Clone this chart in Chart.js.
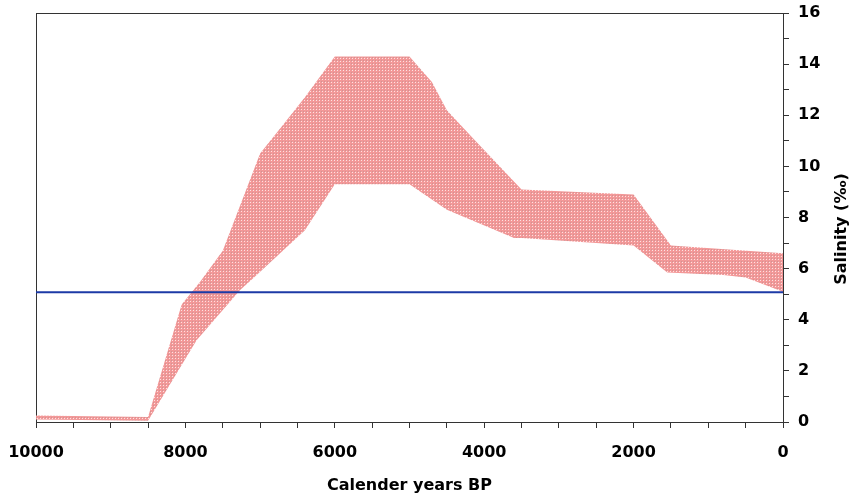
<!DOCTYPE html>
<html>
<head>
<meta charset="utf-8">
<script src="https://cdn.jsdelivr.net/npm/chart.js@4/dist/chart.umd.min.js"></script>
<style>
  html, body { margin: 0; padding: 0; background: #fff; }
  #wrap { width: 853px; height: 499px; }
</style>
</head>
<body>
<div id="wrap"><canvas id="salinity" width="853" height="499"></canvas></div>
<script>
// Salinity band (years BP, per mille)
const upperYears = [10000, 8500, 8050, 7800, 7500, 7000, 6700, 6400, 6000, 5000, 4700, 4500, 4150, 3500, 2000, 1500, 0];
const upperSal   = [0.25, 0.2, 4.6, 5.5, 6.7, 10.5, 11.6, 12.7, 14.3, 14.3, 13.3, 12.2, 11.1, 9.1, 8.9, 6.9, 6.6];
const lowerYears = [10000, 8500, 7850, 7270, 7100, 6400, 6000, 5000, 4500, 3600, 3500, 2000, 1550, 800, 500, 0];
const lowerSal   = [0.1, 0.05, 3.2, 5.15, 5.6, 7.5, 9.3, 9.3, 8.3, 7.2, 7.2, 6.9, 5.85, 5.75, 5.65, 5.1];
const refYears = [10000, 0];
const refSal   = [5.08, 5.08];

const xMajor = 2000;
const yMajor = 2;

const toPoints = (xs, ys) => xs.map((x, i) => ({ x: x, y: ys[i] }));

// dotted pink fill like the original stipple
function stipple(){
  const c = document.createElement('canvas');
  c.width = 3; c.height = 3;
  const g = c.getContext('2d');
  g.fillStyle = '#f39898';
  g.fillRect(0, 0, 3, 3);
  g.fillStyle = '#fde2e2';
  g.fillRect(1, 1, 1, 1);
  g.fillStyle = '#cf9494';
  g.fillRect(0, 0, 1, 1);
  return g.createPattern(c, 'repeat');
}

const font = { family: 'DejaVu Sans, sans-serif', size: 16, weight: 'bold' };
const dashBorder = { display: true, color: '#333', width: 1, dash: [1, 1] };

// rotated right-hand title, reads bottom to top
const yTitle = {
  id: 'yTitle',
  afterDraw(chart){
    const ctx = chart.ctx;
    ctx.save();
    ctx.translate(842, 229);
    ctx.rotate(-Math.PI / 2);
    ctx.font = 'bold 16px DejaVu Sans, sans-serif';
    ctx.fillStyle = '#000';
    ctx.textAlign = 'center';
    ctx.textBaseline = 'middle';
    ctx.fillText('Salinity (‰)', 0, 0);
    ctx.restore();
  }
};

// keep the plot box where the original has it
function noPad(s){
  s.paddingLeft = 0; s.paddingRight = 0;
  s.paddingTop = 0; s.paddingBottom = 0;
}

const ctx = document.getElementById('salinity').getContext('2d');
const chart = new Chart(ctx, {
  type: 'line',
  data: {
    datasets: [
      {
        label: 'limit',
        data: toPoints(refYears, refSal),
        borderColor: '#1c3aa6',
        borderWidth: 2,
        pointRadius: 0,
        fill: false
      },
      {
        label: 'upper',
        data: toPoints(upperYears, upperSal),
        borderWidth: 0,
        borderColor: 'rgba(0,0,0,0)',
        pointRadius: 0,
        backgroundColor: stipple(),
        fill: '+1'
      },
      {
        label: 'lower',
        data: toPoints(lowerYears, lowerSal),
        borderWidth: 0,
        borderColor: 'rgba(0,0,0,0)',
        pointRadius: 0,
        fill: false
      }
    ]
  },
  options: {
    responsive: false,
    animation: false,
    layout: { padding: { left: 36, top: 13, right: 0, bottom: 4 } },
    plugins: { legend: { display: false }, tooltip: { enabled: false } },
    scales: {
      x: {
        type: 'linear',
        position: 'bottom',
        reverse: true,
        min: 0, max: 10000,
        border: dashBorder,
        grid: { drawOnChartArea: false, tickLength: 6, color: '#333' },
        ticks: {
          stepSize: 500, autoSkip: false, maxRotation: 0, padding: 15,
          color: '#000', font: font,
          callback: v => (v % xMajor === 0 ? String(v) : '')
        },
        title: { display: true, text: 'Calender years BP', color: '#000', font: font, padding: { top: 0, bottom: 0 } },
        afterFit: s => { s.height = 499 - 422 - 4; noPad(s); }
      },
      x2: {
        type: 'linear',
        position: 'top',
        min: 0, max: 10000,
        border: dashBorder,
        grid: { display: false },
        ticks: { display: false },
        afterFit: s => { s.height = 0; noPad(s); }
      },
      y: {
        type: 'linear',
        position: 'right',
        min: 0, max: 16,
        border: dashBorder,
        grid: { drawOnChartArea: false, tickLength: 6, color: '#333' },
        ticks: {
          stepSize: 1, autoSkip: false, padding: 9,
          color: '#000', font: font,
          callback: v => (v % yMajor === 0 ? String(v) : '')
        },
        afterFit: s => { s.width = 853 - 783; noPad(s); }
      },
      y2: {
        type: 'linear',
        position: 'left',
        min: 0, max: 16,
        border: dashBorder,
        grid: { display: false },
        ticks: { display: false },
        afterFit: s => { s.width = 0; noPad(s); }
      }
    }
  },
  plugins: [yTitle]
});
</script>
</body>
</html>
